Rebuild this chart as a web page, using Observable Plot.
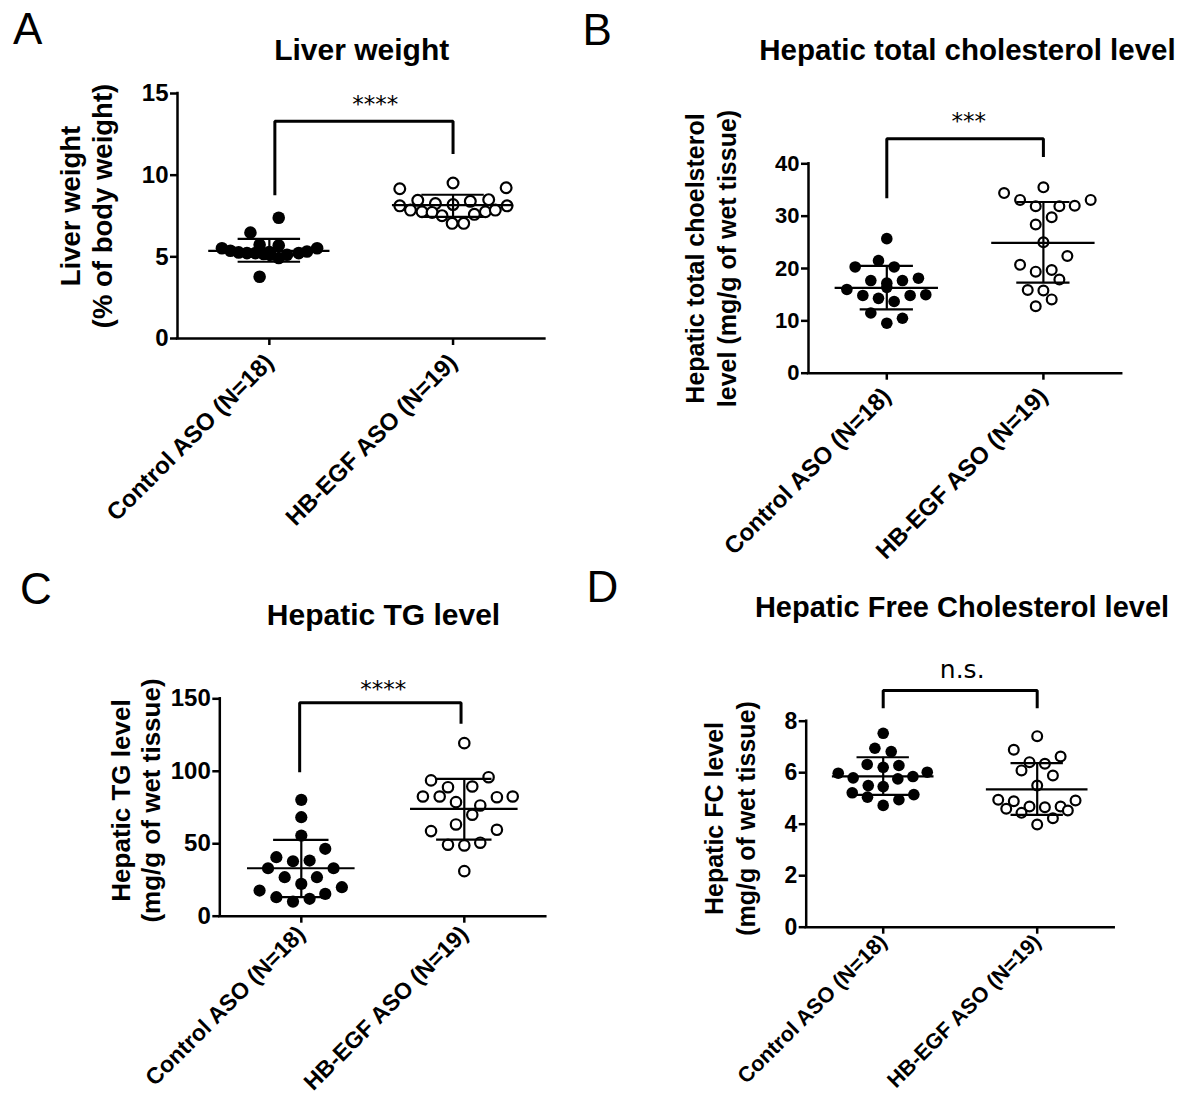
<!DOCTYPE html>
<html>
<head>
<meta charset="utf-8">
<script src="https://cdn.jsdelivr.net/npm/d3@7"></script>
<script src="https://cdn.jsdelivr.net/npm/@observablehq/plot@0.6"></script>
<style>
  body { margin: 0; background: #fff; }
  #fig { position: relative; width: 1189px; height: 1099px; overflow: hidden; background: #fff; }
  .panel { position: absolute; }
  .panel svg { overflow: visible; }
</style>
</head>
<body>
<div id="fig"></div>
<script>
// ---------- shared ----------
const groups = ["Control ASO (N=18)", "HB-EGF ASO (N=19)"];
const panelLetters = ["A", "B", "C", "D"];
const panelTitles = ["Liver weight", "Hepatic total cholesterol level", "Hepatic TG level", "Hepatic Free Cholesterol level"];
const yLabels = [
  "Liver weight\n(% of body weight)",
  "Hepatic total choelsterol\nlevel (mg/g of wet tissue)",
  "Hepatic TG level\n(mg/g of wet tissue)",
  "Hepatic FC level\n(mg/g of wet tissue)"
];
const sigLabels = ["****", "***", "****", "n.s."];

// ---------- A: liver weight (% of body weight) ----------
const liverCtrl = [7.39, 6.48, 5.74, 5.70, 5.53, 5.37, 5.27, 5.23, 5.23, 5.17, 5.13, 4.93, 5.13, 5.23, 5.33, 5.53, 3.78, 5.30];
const liverCtrlJitter = [0.051, -0.103, -0.053, 0.051, -0.258, -0.212, -0.167, -0.122, -0.076, -0.031, 0.005, 0.051, 0.096, 0.160, 0.205, 0.260, -0.053, 0.000];
const liverHb = [9.17, 9.52, 9.23, 8.46, 8.26, 8.20, 8.40, 8.50, 8.12, 7.86, 7.76, 7.72, 7.52, 7.05, 7.05, 7.60, 7.76, 7.86, 8.12];
const liverHbJitter = [-0.290, 0, 0.289, -0.192, -0.096, 0, 0.094, 0.194, -0.290, -0.232, -0.169, -0.114, -0.060, -0.005, 0.058, 0.116, 0.176, 0.230, 0.294];
const liverMean = [5.37, 8.16];
const liverLow = [4.70, 7.45];
const liverHigh = [6.10, 8.80];
const liverTicks = [0, 5, 10, 15];
const liverBracket = [8.77, 13.3, 11.3];

// ---------- B: hepatic total cholesterol ----------
const tcCtrl = [25.7, 21.5, 20.3, 20.3, 18.15, 17.7, 17.2, 17.7, 16.0, 14.85, 14.3, 13.7, 14.85, 15.0, 11.5, 10.5, 9.55, 16.4];
const tcCtrlJitter = [0, -0.053, -0.202, 0.047, 0.202, -0.102, 0, 0.100, -0.255, -0.153, -0.053, 0.047, 0.149, 0.249, -0.102, 0.100, 0, 0];
const tcHb = [34.4, 35.5, 33.1, 33.1, 31.9, 31.9, 32.0, 29.8, 28.4, 25.0, 22.4, 20.7, 19.4, 19.7, 17.9, 15.9, 15.8, 14.1, 12.8];
const tcHbJitter = [-0.251, 0, -0.149, 0.302, -0.049, 0.102, 0.200, 0.053, -0.049, 0, 0.153, -0.149, -0.049, 0.053, 0.102, -0.100, 0, 0.053, -0.049];
const tcMean = [16.3, 24.9];
const tcLow = [12.2, 17.3];
const tcHigh = [20.5, 32.7];
const tcTicks = [0, 10, 20, 30, 40];
const tcBracket = [33.4, 44.8, 41.3];

// ---------- C: hepatic TG ----------
const tgCtrl = [80.3, 68.3, 55.6, 46.5, 40.7, 37.9, 38.4, 33.1, 33.1, 26.9, 26.9, 22.3, 20.0, 17.7, 15.4, 13.1, 12.0, 10.1];
const tgCtrlJitter = [0, 0, 0, 0.147, -0.153, -0.051, 0.051, -0.204, 0.198, -0.102, 0.096, 0, 0.249, -0.256, 0.147, -0.153, 0.051, -0.051];
const tgHb = [119.4, 93.7, 95.9, 89.0, 89.5, 82.6, 82.6, 82.1, 82.6, 78.7, 76.4, 70.0, 63.3, 58.7, 59.6, 49.3, 48.8, 50.7, 31.1];
const tgHbJitter = [0, -0.204, 0.149, -0.100, 0.049, -0.254, -0.151, 0.200, 0.297, -0.051, 0.098, 0.049, -0.051, -0.204, 0.200, -0.100, 0, 0.098, 0];
const tgMean = [33.1, 74.1];
const tgLow = [13.1, 52.9];
const tgHigh = [52.7, 94.8];
const tgTicks = [0, 50, 100, 150];
const tgBracket = [99.4, 147.3, 132.8];

// ---------- D: hepatic free cholesterol ----------
const fcCtrl = [7.53, 6.95, 6.82, 6.32, 6.21, 6.28, 5.98, 6.02, 5.80, 5.76, 5.85, 5.50, 5.46, 5.22, 5.05, 4.95, 5.15, 4.73];
const fcCtrlJitter = [0, -0.054, 0.052, -0.104, 0, 0.102, -0.292, 0.286, -0.195, 0.095, 0.193, -0.097, 0, -0.201, -0.102, 0.102, 0.199, 0];
const fcHb = [7.42, 6.89, 6.63, 6.41, 6.35, 6.09, 5.89, 5.50, 4.95, 4.89, 4.92, 4.60, 4.69, 4.66, 4.69, 4.53, 4.44, 4.23, 3.99];
const fcHbJitter = [0, -0.152, 0.152, -0.050, 0.050, -0.102, 0.102, 0, -0.253, -0.152, 0.249, -0.201, -0.050, 0.050, 0.152, 0.199, -0.102, 0.102, 0];
const fcMean = [5.86, 5.35];
const fcLow = [5.14, 4.36];
const fcHigh = [6.60, 6.37];
const fcTicks = [0, 2, 4, 6, 8];
const fcBracket = [8.5, 9.19, 8.5];

// ---------- panel layout (positions / styles, not data) ----------
const layouts = [
  { left: 0,   top: 0,   width: 580, height: 555, mT: 93,    mR: 35.6, mB: 217,   mL: 177,
    r: 6.3, legX: [0.03, 1.0], sigX: 0.577, sigDy: -9, sigSize: 23, tickSize: 24, titleSize: 30,
    xSize: 24, xPad: 13,
    letter: [-164.5, -50], title: [0.5, -34], ylab: [-92, -10], ylabSize: 27.5, ylabLH: 1.16 },
  { left: 580, top: 0,   width: 609, height: 555, mT: 163.3, mR: 67.8, mB: 182.3, mL: 228,
    r: 5.8, legX: [0, 1], sigX: 0.524, sigDy: -9.5, sigSize: 23, tickSize: 22, titleSize: 29.5,
    xSize: 24, xPad: 12,
    letter: [-226, -119], title: [2.4, -103.5], ylab: [-98.7, -10], ylabSize: 25, ylabLH: 1.28 },
  { left: 0,   top: 555, width: 580, height: 544, mT: 143.3, mR: 34.7, mB: 183.3, mL: 219.3,
    r: 6.1, legX: [-0.01, 0.98], sigX: 0.503, sigDy: -6, sigSize: 23, tickSize: 24, titleSize: 30,
    xSize: 23, xPad: 7,
    letter: [-199.7, -95], title: [0.7, -74], ylab: [-84.1, -7], ylabSize: 26, ylabLH: 1.12 },
  { left: 580, top: 555, width: 609, height: 544, mT: 165.7, mR: 75.3, mB: 172.3, mL: 225.7,
    r: 5.8, legX: [0, 1], sigX: 0.513, sigDy: -12.5, sigSize: 25, tickSize: 23, titleSize: 29,
    xSize: 21.5, xPad: 4,
    letter: [-219.7, -119], title: [1.8, -104], ylab: [-77.9, -5.7], ylabSize: 25, ylabLH: 1.28 }
];

const panels = [
  { ctrl: liverCtrl, ctrlJ: liverCtrlJitter, hb: liverHb, hbJ: liverHbJitter, mean: liverMean, lo: liverLow, hi: liverHigh, ticks: liverTicks, bracket: liverBracket },
  { ctrl: tcCtrl, ctrlJ: tcCtrlJitter, hb: tcHb, hbJ: tcHbJitter, mean: tcMean, lo: tcLow, hi: tcHigh, ticks: tcTicks, bracket: tcBracket },
  { ctrl: tgCtrl, ctrlJ: tgCtrlJitter, hb: tgHb, hbJ: tgHbJitter, mean: tgMean, lo: tgLow, hi: tgHigh, ticks: tgTicks, bracket: tgBracket },
  { ctrl: fcCtrl, ctrlJ: fcCtrlJitter, hb: fcHb, hbJ: fcHbJitter, mean: fcMean, lo: fcLow, hi: fcHigh, ticks: fcTicks, bracket: fcBracket }
];

const SANS = "'Liberation Sans', Arial, Helvetica, sans-serif";
const THIN = "'DejaVu Sans', 'Liberation Sans', sans-serif";
const MEAN_HALF = 0.33, CAP_HALF = 0.17;

function makePanel(i) {
  const p = panels[i], L = layouts[i];
  const yMax = p.ticks[p.ticks.length - 1];
  const ctrlPts = p.ctrl.map((v, k) => ({ x: 0 + p.ctrlJ[k], v }));
  const hbPts = p.hb.map((v, k) => ({ x: 1 + p.hbJ[k], v }));
  const stats = [0, 1].map(g => ({ g, mean: p.mean[g], lo: p.lo[g], hi: p.hi[g] }));
  const br = [
    { x: L.legX[0], y: p.bracket[0] },
    { x: L.legX[0], y: p.bracket[1] },
    { x: L.legX[1], y: p.bracket[1] },
    { x: L.legX[1], y: p.bracket[2] }
  ];
  return Plot.plot({
    width: L.width,
    height: L.height,
    marginTop: L.mT, marginRight: L.mR, marginBottom: L.mB, marginLeft: L.mL,
    x: { domain: [-0.5, 1.5], axis: null },
    y: { domain: [0, yMax], axis: null },
    style: { background: "transparent", overflow: "visible", fontFamily: SANS, color: "black" },
    marks: [
      // axes
      Plot.axisY({ ticks: p.ticks, tickSize: 7, tickPadding: 2, fontSize: L.tickSize, fontWeight: "bold",
                   strokeWidth: 2.5, label: null, fontFamily: SANS }),
      Plot.axisX({ ticks: [0, 1], tickFormat: d => groups[d], tickRotate: -45, tickSize: 7, tickPadding: L.xPad,
                   fontSize: L.xSize, fontWeight: "bold", strokeWidth: 2.5, label: null, fontFamily: SANS }),
      Plot.ruleX([-0.5], { y1: 0, y2: yMax, strokeWidth: 2.5, strokeLinecap: "square" }),
      Plot.ruleY([0], { x1: -0.5, x2: 1.5, strokeWidth: 2.5, strokeLinecap: "square" }),
      // points
      Plot.dot(ctrlPts, { x: "x", y: "v", r: L.r, fill: "black", stroke: "none" }),
      Plot.dot(hbPts, { x: "x", y: "v", r: L.r - 0.9, fill: "white", stroke: "black", strokeWidth: 2.2 }),
      // mean ± SD
      Plot.ruleY(stats, { y: "mean", x1: d => d.g - MEAN_HALF, x2: d => d.g + MEAN_HALF, strokeWidth: 2.2 }),
      Plot.ruleX(stats, { x: "g", y1: "lo", y2: "hi", strokeWidth: 2.2 }),
      Plot.ruleY(stats, { y: "lo", x1: d => d.g - CAP_HALF, x2: d => d.g + CAP_HALF, strokeWidth: 2.2 }),
      Plot.ruleY(stats, { y: "hi", x1: d => d.g - CAP_HALF, x2: d => d.g + CAP_HALF, strokeWidth: 2.2 }),
      // significance bracket
      Plot.line(br, { x: "x", y: "y", strokeWidth: 3, strokeLinejoin: "miter", strokeLinecap: "butt" }),
      Plot.text([sigLabels[i]], { x: L.sigX, y: p.bracket[1], text: d => d, dy: L.sigDy, lineAnchor: "bottom",
                                  fontFamily: THIN, fontSize: L.sigSize, fontWeight: "normal" }),
      // panel letter
      Plot.text([panelLetters[i]], { frameAnchor: "top-left", text: d => d, dx: L.letter[0], dy: L.letter[1],
                                     textAnchor: "start", lineAnchor: "bottom", fontFamily: SANS, fontSize: 44, fontWeight: "normal" }),
      // title
      Plot.text([panelTitles[i]], { frameAnchor: "top", text: d => d, dx: L.title[0], dy: L.title[1],
                                    lineAnchor: "bottom", fontFamily: SANS, fontSize: L.titleSize, fontWeight: "bold" }),
      // y-axis label
      Plot.text([yLabels[i]], { frameAnchor: "left", text: d => d, rotate: -90, dx: L.ylab[0], dy: L.ylab[1],
                                textAnchor: "middle", lineAnchor: "middle", lineHeight: L.ylabLH,
                                fontFamily: SANS, fontSize: L.ylabSize, fontWeight: "bold" })
    ]
  });
}

const fig = document.getElementById("fig");
layouts.forEach((L, i) => {
  const div = document.createElement("div");
  div.className = "panel";
  div.style.left = L.left + "px";
  div.style.top = L.top + "px";
  div.style.width = L.width + "px";
  div.style.height = L.height + "px";
  div.appendChild(makePanel(i));
  fig.appendChild(div);
});
</script>
</body>
</html>
